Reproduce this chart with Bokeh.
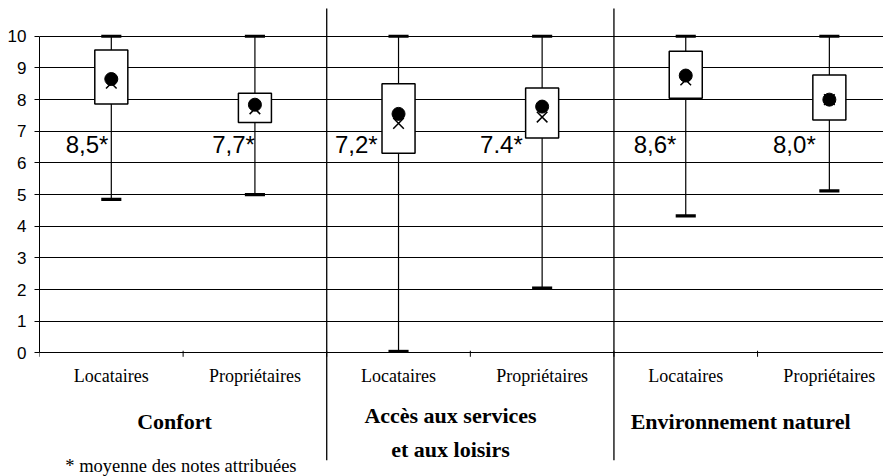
from bokeh.plotting import figure
from bokeh.models import Range1d, FixedTicker, ColumnDataSource
from bokeh.core.properties import value
from bokeh.embed import file_html
from bokeh.resources import INLINE

# ---------------- data ----------------
groups = ["Confort", "Accès aux services\net aux loisirs", "Environnement naturel"]
statuses = ["Locataires", "Propriétaires"]
whisker_low = [4.85, 5.0, 0.05, 2.05, 4.33, 5.12]
q1 = [7.86, 7.28, 6.31, 6.79, 8.04, 7.36]
q3 = [9.57, 8.20, 8.50, 8.37, 9.53, 8.78]
whisker_high = [10, 10, 10, 10, 10, 10]
dot_values = [8.65, 7.84, 7.55, 7.78, 8.76, 8.00]
mean_values = [8.52, 7.71, 7.25, 7.45, 8.62, 8.00]
mean_labels = ["8,5*", "7,7*", "7,2*", "7.4*", "8,6*", "8,0*"]
y_ticks = [0, 1, 2, 3, 4, 5, 6, 7, 8, 9, 10]
footnote = "* moyenne des notes attribuées"

# ---------------- layout / style ----------------
Y_TOP, Y_BOTTOM = 11.13, -3.90
SEP_TOP = 10.88
X_END = 5.877
BOX_W = 0.23
CAP_W = 0.14
LABEL_LEVEL = 6.58
LABEL_SHIFT = [-0.02, 0.0, -0.145, -0.135, -0.065, -0.095]
TITLE_SHIFT = [-0.06, -0.138, -0.118]
SUB_Y = -0.74
TITLE_Y = -2.16
TITLE_LINE = 1.07
SEP_BOTTOM = -3.39
FOOT_X, FOOT_Y = 0.18, -3.58
SANS = value("Liberation Sans")
SERIF = value("Liberation Serif")

n = len(q1)
centers = [i + 0.5 for i in range(n)]

p = figure(width=883, height=476, x_range=Range1d(0, X_END), y_range=Range1d(Y_BOTTOM, Y_TOP),
           output_backend="svg", toolbar_location=None, x_axis_location=None,
           min_border_left=39, min_border_right=0, min_border_top=0, min_border_bottom=0)
p.outline_line_color = None
p.background_fill_color = "white"
p.xgrid.visible = False

ax = p.yaxis[0]
ax.ticker = FixedTicker(ticks=y_ticks)
ax.bounds = (min(y_ticks), max(y_ticks))
ax.axis_line_color = "black"
ax.axis_line_width = 1
ax.major_tick_line_color = "black"
ax.major_tick_out = 5
ax.major_tick_in = 0
ax.minor_tick_line_color = None
ax.major_label_standoff = 8
ax.major_label_text_font = "Liberation Sans"
ax.major_label_text_font_size = "17px"
ax.major_label_text_color = "black"

g = p.ygrid[0]
g.ticker = FixedTicker(ticks=y_ticks)
g.bounds = (-50, 50)
g.grid_line_color = "black"
g.grid_line_width = 1
g.grid_line_alpha = 1

# x-axis ticks at slot boundaries
bounds_x = list(range(n))
p.segment(x0=bounds_x, y0=[0.07] * n, x1=bounds_x, y1=[-0.12] * n, line_color="black", line_width=1)

# group separators
seps = [2 * k for k in range(1, len(groups))]
p.segment(x0=seps, y0=[SEP_TOP] * len(seps), x1=seps, y1=[SEP_BOTTOM] * len(seps),
          line_color="black", line_width=1.3)

src = ColumnDataSource(dict(x=centers, lo=whisker_low, hi=whisker_high, q1=q1, q3=q3,
                            dot=dot_values, mean=mean_values,
                            lx=[c + s for c, s in zip(centers, LABEL_SHIFT)],
                            ly=[LABEL_LEVEL] * n, lab=mean_labels))

# whiskers
p.segment(x0="x", y0="lo", x1="x", y1="hi", source=src, line_color="black", line_width=1.2)
# caps
p.rect(x="x", y="hi", width=CAP_W, height=0.1, source=src, fill_color="black", line_color=None)
p.rect(x="x", y="lo", width=CAP_W, height=0.1, source=src, fill_color="black", line_color=None)
# boxes
p.vbar(x="x", bottom="q1", top="q3", width=BOX_W, source=src, fill_color="white",
       line_color="black", line_width=1.5)
# dot and mean cross
p.scatter(x="x", y="dot", source=src, marker="circle", size=13, fill_color="black", line_color="black")
p.scatter(x="x", y="mean", source=src, marker="x", size=15, line_color="black", line_width=1.5)

# mean labels
p.text(x="lx", y="ly", text="lab", source=src, text_font=SANS, text_font_size="24px",
       text_align="right", text_baseline="middle", text_color="black")

# sub-category labels
sub_text = [statuses[i % len(statuses)] for i in range(n)]
p.text(x=centers, y=[SUB_Y] * n, text=sub_text, text_font=SERIF, text_font_size="18px",
       text_align="center", text_baseline="middle", text_color="black")

# group titles
tx, ty, tt = [], [], []
for k, gname in enumerate(groups):
    lines = gname.split("\n")
    cx = 2 * k + 1 + TITLE_SHIFT[k]
    if len(lines) == 1:
        tx.append(cx); ty.append(TITLE_Y); tt.append(lines[0])
    else:
        top = TITLE_Y + 0.18
        for j, ln in enumerate(lines):
            tx.append(cx); ty.append(top - j * TITLE_LINE); tt.append(ln)
p.text(x=tx, y=ty, text=tt, text_font=SERIF, text_font_size="22px", text_font_style="bold",
       text_align="center", text_baseline="middle", text_color="black")

# footnote
p.text(x=[FOOT_X], y=[FOOT_Y], text=[footnote], text_font=SERIF, text_font_size="18.5px",
       text_align="left", text_baseline="middle", text_color="black")

open("out.html", "w").write(file_html(p, INLINE))
